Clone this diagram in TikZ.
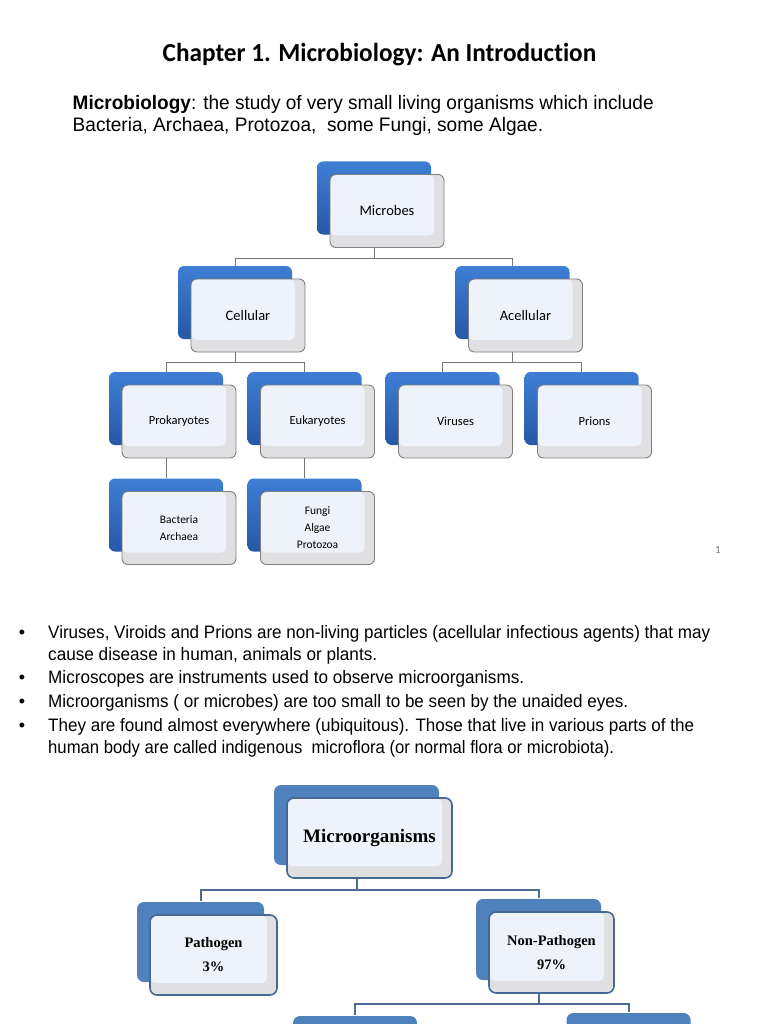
\documentclass[tikz,border=0pt]{standalone}
\usepackage{fontspec}
\usepackage{graphicx}
\usetikzlibrary{shadows}
\newfontfamily\calfont[Ligatures={NoCommon}]{Carlito}
\newfontfamily\arifont{Liberation Sans}
\newfontfamily\tnrfont{Liberation Serif}
\definecolor{blueTop}{RGB}{62,126,212}
\definecolor{blueBot}{RGB}{38,88,165}
\definecolor{bblue}{RGB}{79,129,189}
\definecolor{innerlight}{RGB}{238,242,250}
\definecolor{bandgray}{RGB}{224,224,226}
\definecolor{tborder}{RGB}{128,128,128}
\definecolor{bborder}{RGB}{72,104,148}
\definecolor{tline}{RGB}{120,120,120}
\definecolor{bline}{RGB}{77,108,148}
\newsavebox\fitbox
\newcommand\fitto[2]{\sbox\fitbox{#2}\pgfmathsetmacro\myfitr{#1/\the\wd\fitbox}\scalebox{\myfitr}[1]{\usebox\fitbox}}
\tikzset{
  lightpart/.style={path picture={\fill[innerlight, rounded corners=5pt] ([xshift=0.5pt,yshift=-0.5pt]path picture bounding box.north west) rectangle ([xshift=-10pt,yshift=12pt]path picture bounding box.south east);}},
  tbox/.style={rectangle, rounded corners=6pt, minimum width=114pt, minimum height=73pt, inner sep=1pt, align=center, fill=bandgray, draw=tborder, line width=0.9pt, font=\calfont\fontsize{14.5}{17}\selectfont,
    general shadow={shadow xshift=-13pt, shadow yshift=13pt, top color=blueTop, bottom color=blueBot, draw=none}, lightpart},
  tsmall/.style={tbox, font=\calfont\fontsize{12.5}{17}\selectfont},
  ttiny/.style={tbox, font=\calfont\fontsize{11.5}{17.5}\selectfont},
  bbox/.style={rectangle, rounded corners=7pt, minimum width=126pt, minimum height=80pt, inner sep=1pt, align=center, fill=bandgray, draw=bborder, line width=1.6pt, font=\tnrfont\bfseries\fontsize{14.5}{24}\selectfont,
    general shadow={shadow xshift=-13pt, shadow yshift=13pt, fill=bblue, draw=none}, lightpart},
  tconn/.style={draw=tline, line width=1pt},
  bconn/.style={draw=bline, line width=2pt},
  txt/.style={anchor=base west, inner sep=0pt},
  bul/.style={anchor=base, inner sep=0pt, font=\arifont\fontsize{18}{20}\selectfont},
}
\begin{document}
\begin{tikzpicture}[x=1pt,y=-1pt]
\useasboundingbox (0,0) rectangle (768,1024);
\clip (0,0) rectangle (768,1024);
\fill[white] (0,0) rectangle (768,1024);
% title and intro
\node[txt] (title) at (162.5,62) {\fitto{433.5}{\calfont\bfseries\fontsize{26}{30}\selectfont Chapter 1. Microbiology: An Introduction}};
\node[txt] (p1) at (72.5,110) {\fitto{581}{\arifont\fontsize{19.5}{22}\selectfont\textbf{Microbiology}: the study of very small living organisms which include}};
\node[txt] (p2) at (72.5,132) {\fitto{470.5}{\arifont\fontsize{19.5}{22}\selectfont Bacteria, Archaea, Protozoa,\ \ some Fungi, some Algae.}};
% top tree
\node[tbox] (mic) at (387,211) {Microbes};
\node[tbox] (cel) at (248,315.5) {Cellular};
\node[tbox] (acel) at (525.5,315.5) {Acellular};
\node[tsmall] (pro) at (179,421.5) {Prokaryotes};
\node[tsmall] (euk) at (317.5,421.5) {Eukaryotes};
\node[tsmall] (vir) at (455.5,421.5) {Viruses};
\node[tsmall] (pri) at (594.5,421.5) {Prions};
\node[ttiny] (bac) at (179,528) {Bacteria\\Archaea};
\node[ttiny, font=\calfont\fontsize{11.5}{17}\selectfont] (fun) at (317.5,528) {Fungi\\Algae\\Protozoa};
\draw[tconn] ([xshift=-13pt]mic.south) -- ++(0,10.5) -| ([xshift=-13pt,yshift=13pt]cel.north);
\draw[tconn] ([xshift=-13pt]mic.south) -- ++(0,10.5) -| ([xshift=-13pt,yshift=13pt]acel.north);
\draw[tconn] ([xshift=-13pt]cel.south) -- ++(0,10.5) -| ([xshift=-13pt,yshift=13pt]pro.north);
\draw[tconn] ([xshift=-13pt]cel.south) -- ++(0,10.5) -| ([xshift=-13pt,yshift=13pt]euk.north);
\draw[tconn] ([xshift=-13pt]acel.south) -- ++(0,10.5) -| ([xshift=-13pt,yshift=13pt]vir.north);
\draw[tconn] ([xshift=-13pt]acel.south) -- ++(0,10.5) -| ([xshift=-13pt,yshift=13pt]pri.north);
\draw[tconn] ([xshift=-13pt]pro.south) -- ([xshift=-13pt,yshift=13pt]bac.north);
\draw[tconn] ([xshift=-13pt]euk.south) -- ([xshift=-13pt,yshift=13pt]fun.north);
\node[anchor=center, inner sep=0pt, text=tline, font=\calfont\fontsize{11}{13}\selectfont] (pg) at (718,550) {1};
% bullets
\node[bul] (b1) at (22,638) {•};
\node[txt] (l1) at (48,638) {\fitto{662}{\arifont\fontsize{18}{20}\selectfont Viruses, Viroids and Prions are non-living particles (acellular infectious agents) that may}};
\node[txt] (l2) at (48,660) {\fitto{329}{\arifont\fontsize{18}{20}\selectfont cause disease in human, animals or plants.}};
\node[bul] (b2) at (22,683) {•};
\node[txt] (l3) at (48,683) {\fitto{476}{\arifont\fontsize{18}{20}\selectfont Microscopes are instruments used to observe microorganisms.}};
\node[bul] (b3) at (22,707) {•};
\node[txt] (l4) at (48,707) {\fitto{580}{\arifont\fontsize{18}{20}\selectfont Microorganisms ( or microbes) are too small to be seen by the unaided eyes.}};
\node[bul] (b4) at (22,731) {•};
\node[txt] (l5) at (48,731) {\fitto{646}{\arifont\fontsize{18}{20}\selectfont They are found almost everywhere (ubiquitous). Those that live in various parts of the}};
\node[txt] (l6) at (48,753) {\fitto{566}{\arifont\fontsize{18}{20}\selectfont human body are called indigenous\ \ microflora (or normal flora or microbiota).}};
% bottom tree
\node[bbox, minimum width=165pt, font=\tnrfont\bfseries\fontsize{19}{22}\selectfont] (morg) at (369.5,838) {Microorganisms};
\node[bbox, minimum width=127pt] (path) at (213.5,955) {Pathogen\\3\%};
\node[bbox, minimum width=125pt, minimum height=81pt] (nonp) at (551.5,952.5) {Non-Pathogen\\97\%};
\node[bbox, minimum width=124pt] (c1) at (368,1069) {};
\node[bbox, minimum width=124pt] (c2) at (641.5,1066) {};
\draw[bconn] ([xshift=-13pt]morg.south) -- ++(0,11) -| ([xshift=-13pt,yshift=13pt]path.north);
\draw[bconn] ([xshift=-13pt]morg.south) -- ++(0,11) -| ([xshift=-13pt,yshift=13pt]nonp.north);
\draw[bconn] ([xshift=-13pt]nonp.south) -- ++(0,10.5) -| ([xshift=-13pt,yshift=13pt]c1.north);
\draw[bconn] ([xshift=-13pt]nonp.south) -- ++(0,10.5) -| ([xshift=-13pt,yshift=13pt]c2.north);
\end{tikzpicture}
\end{document}
